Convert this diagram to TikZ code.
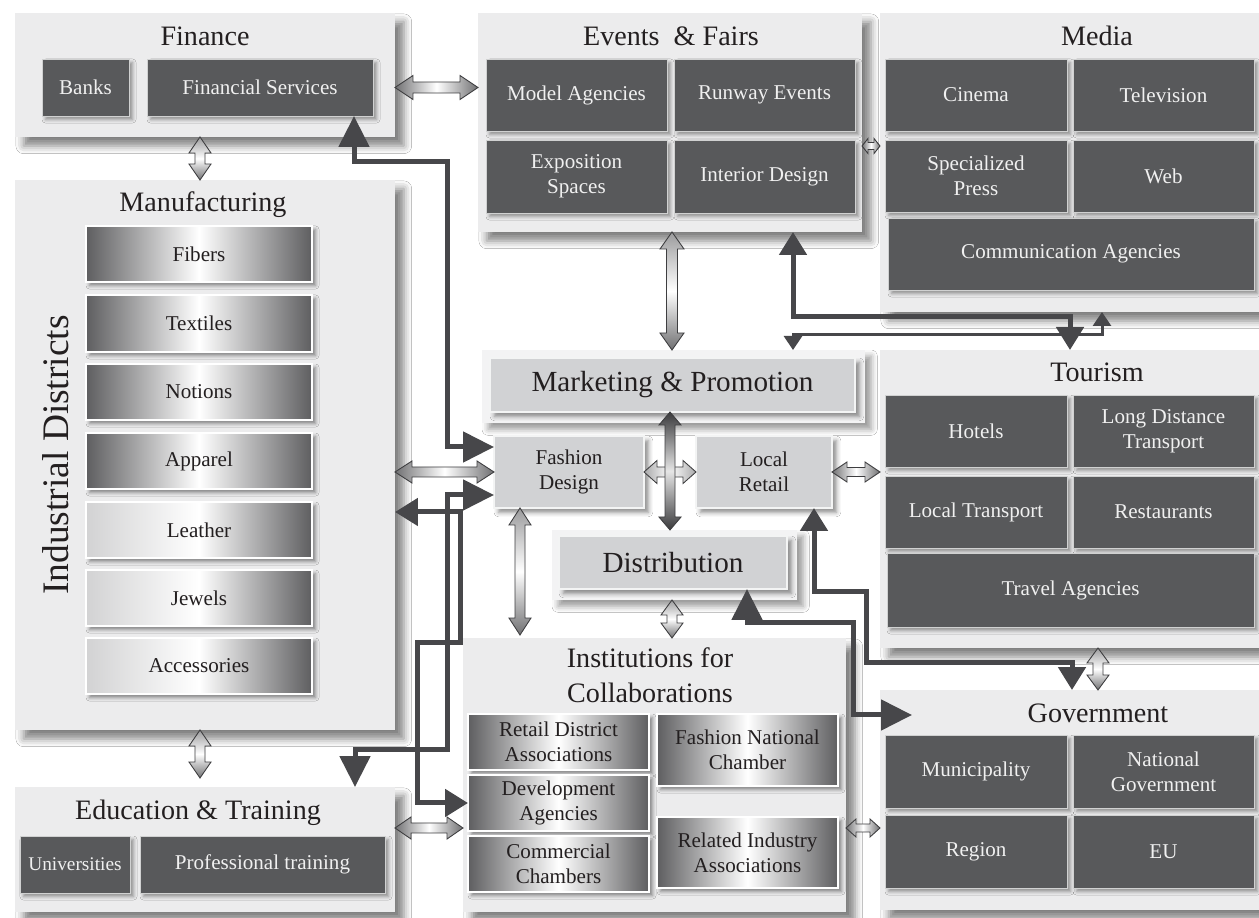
\documentclass[tikz,border=0pt]{standalone}
\usepackage{fontspec}
\setmainfont{Liberation Serif}
\usetikzlibrary{arrows.meta,shadows.blur,calc}
\definecolor{panel}{HTML}{ECECED}
\definecolor{ipanel}{HTML}{F3F3F4}
\definecolor{darkbox}{HTML}{58595B}
\definecolor{midbox}{HTML}{D1D2D4}
\definecolor{arr}{HTML}{47474A}
\definecolor{ink}{HTML}{231F20}
\definecolor{garr}{HTML}{707072}
\definecolor{garrd}{HTML}{3A3A3C}
\definecolor{arrline}{HTML}{3E3E40}
\definecolor{gdark}{HTML}{5E5E60}
\definecolor{glight}{HTML}{D2D2D3}
\newcommand\lbl{\fontsize{12}{14.2}\selectfont}
\newcommand\ttl{\fontsize{16}{19.5}\selectfont}
\newcommand\cell[7]{\node[#6, inner sep=0pt, outer sep=0pt, minimum width={(#4-#2)*0.02cm}, minimum height={(#5-#3)*0.02cm}] (#1) at ({(#2+#4)/2},{(#3+#5)/2}) {#7};}
% horizontal double arrow: style, left point, right point, head length, head half width, shaft half width
\newcommand\hdarr[6]{\path[#1] let \p1=#2, \p2=#3 in (\x1,\y1) -- ++(#4,#5) -- ++(0,#6-#5) -- (\x2-#4,\y1+#6) -- ++(0,#5-#6) -- (\x2,\y1) -- ++(-#4,-#5) -- ++(0,#5-#6) -- (\x1+#4,\y1-#6) -- ++(0,#6-#5) -- cycle;}
% vertical double arrow: style, upper point, lower point, head length, head half width, shaft half width
\newcommand\vdarr[6]{\path[#1] let \p1=#2, \p2=#3 in (\x1,\y1) -- ++(#5,-#4) -- ++(#6-#5,0) -- (\x1+#6,\y2+#4) -- ++(#5-#6,0) -- (\x1,\y2) -- ++(-#5,#4) -- ++(#5-#6,0) -- (\x1-#6,\y1-#4) -- ++(#6-#5,0) -- cycle;}
\tikzset{
  panelbox/.style={fill=panel, draw=none, blur shadow={shadow xshift=5pt, shadow yshift=-5pt, shadow blur radius=4.5pt, shadow opacity=50}},
  innerpanel/.style={fill=ipanel, draw=none, blur shadow={shadow xshift=3.5pt, shadow yshift=-3.5pt, shadow blur radius=3.5pt, shadow opacity=40}},
  darkcell/.style={fill=darkbox, draw=white!72!darkbox, line width=0.5pt, text=white!94!black, font=\lbl, align=center, blur shadow={shadow xshift=2pt, shadow yshift=-2pt, shadow blur radius=2pt, shadow opacity=40}},
  midcell/.style={fill=midbox, draw=white!75!midbox, line width=0.7pt, text=ink, font=\lbl, align=center, blur shadow={shadow xshift=2.5pt, shadow yshift=-2.5pt, shadow blur radius=2.5pt, shadow opacity=45}},
  gradA/.style={left color=gdark, right color=gdark, middle color=white, draw=white, line width=0.7pt, text=ink, font=\lbl, align=center, blur shadow={shadow xshift=2pt, shadow yshift=-2pt, shadow blur radius=2pt, shadow opacity=45}},
  gradB/.style={left color=glight, right color=gdark, middle color=white, draw=white, line width=0.7pt, text=ink, font=\lbl, align=center, blur shadow={shadow xshift=2pt, shadow yshift=-2pt, shadow blur radius=2pt, shadow opacity=45}},
  ttlnode/.style={font=\ttl, text=ink, anchor=base, inner sep=0pt},
  dka/.style={draw=arr, line width=0.1cm, line join=miter, {Triangle[width=0.6cm,length=0.62cm]}-{Triangle[width=0.6cm,length=0.62cm]}},
  dkm/.style={draw=arr, line width=0.1cm, line join=miter, {Triangle[width=0.54cm,length=0.46cm]}-{Triangle[width=0.54cm,length=0.46cm]}},
  dkthin/.style={draw=arr, line width=0.06cm, line join=miter, {Triangle[width=0.36cm,length=0.28cm]}-{Triangle[width=0.36cm,length=0.28cm]}},
  garrh/.style={draw=arrline, line width=0.5pt, left color=garr, right color=garr, middle color=white},
  garrv/.style={draw=arrline, line width=0.5pt, top color=garr!70!white, bottom color=garr, middle color=white},
  crossv/.style={draw=arrline, line width=0.5pt, top color=garrd, bottom color=garrd, middle color=white!90!black},
  crossh/.style={draw=arrline, line width=0.5pt, left color=garr!60!white, right color=garr!60!white, middle color=white}
}
\begin{document}
\begin{tikzpicture}[x=0.02cm,y=-0.02cm]
\useasboundingbox (0,0) rectangle (1259,918);
\fill[white] (0,0) rectangle (1259,918);
% panels
\cell{fin}{15}{13}{395}{137}{panelbox}{}
\cell{ev}{478}{13}{862}{232}{panelbox}{}
\cell{med}{880}{13}{1262}{312}{panelbox}{}
\cell{tou}{880}{350}{1262}{648}{panelbox}{}
\cell{gov}{880}{690}{1262}{910}{panelbox}{}
\cell{man}{15}{180}{395}{730}{panelbox}{}
\cell{edu}{15}{787}{395}{912}{panelbox}{}
\cell{inst}{463}{638}{846}{912}{panelbox}{}
\cell{mkp}{482}{350}{865}{423}{innerpanel}{}
\cell{distp}{552}{530}{797}{600}{innerpanel}{}
% titles
\node[ttlnode] (fint) at (205,46) {Finance};
\node[ttlnode] (evt) at (671,46) {Events~ \& Fairs};
\node[ttlnode] (medt) at (1097,46) {Media};
\node[ttlnode] (tout) at (1097,382) {Tourism};
\node[ttlnode] (govt) at (1098,723) {Government};
\node[ttlnode] (mant) at (203,212) {Manufacturing};
\node[ttlnode] (edut) at (198,820) {Education \& Training};
\node[ttlnode] (instt1) at (650,668) {Institutions for};
\node[ttlnode] (instt2) at (650,703) {Collaborations};
\node[rotate=90, font=\fontsize{21.3}{24}\selectfont, text=ink, inner sep=0pt] (ind) at (56,455) {Industrial Districts};
% finance
\cell{banks}{42}{59}{129}{116}{darkcell}{Banks}
\cell{fs}{147}{59}{373}{116}{darkcell}{Financial Services}
% events
\cell{ma}{486}{59}{667}{131}{darkcell}{Model Agencies}
\cell{re}{674}{59}{855}{131}{darkcell}{Runway Events}
\cell{es}{486}{140}{667}{213}{darkcell}{Exposition\\Spaces}
\cell{id}{674}{140}{855}{213}{darkcell}{Interior Design}
% media
\cell{cin}{885}{59}{1067}{131}{darkcell}{Cinema}
\cell{tv}{1073}{59}{1254}{131}{darkcell}{Television}
\cell{sp}{885}{140}{1067}{212}{darkcell}{Specialized\\Press}
\cell{web}{1073}{140}{1254}{212}{darkcell}{Web}
\cell{ca}{888}{218}{1254}{290}{darkcell}{Communication Agencies}
% tourism
\cell{hot}{885}{395}{1067}{467}{darkcell}{Hotels}
\cell{ldt}{1073}{395}{1254}{467}{darkcell}{Long Distance\\Transport}
\cell{lt}{885}{476}{1067}{548}{darkcell}{Local Transport}
\cell{rest}{1073}{476}{1254}{548}{darkcell}{Restaurants}
\cell{ta}{887}{553}{1254}{627}{darkcell}{Travel Agencies}
% government
\cell{mun}{885}{735}{1067}{808}{darkcell}{Municipality}
\cell{ng}{1073}{735}{1254}{808}{darkcell}{National\\Government}
\cell{reg}{885}{815}{1067}{888}{darkcell}{Region}
\cell{eu}{1073}{815}{1254}{888}{darkcell}{EU}
% education
\cell{uni}{20}{836}{130}{893}{darkcell, font=\fontsize{11}{13}\selectfont}{Universities}
\cell{pt}{140}{836}{385}{893}{darkcell}{Professional training}
% manufacturing
\cell{fib}{86}{226}{312}{282}{gradA}{Fibers}
\cell{tex}{86}{295}{312}{352}{gradA}{Textiles}
\cell{not}{86}{364}{312}{420}{gradA}{Notions}
\cell{app}{86}{433}{312}{489}{gradA}{Apparel}
\cell{lea}{86}{502}{312}{558}{gradB}{Leather}
\cell{jew}{86}{570}{312}{626}{gradB}{Jewels}
\cell{acc}{86}{638}{312}{694}{gradB}{Accessories}
% institutions
\cell{rda}{468}{714}{649}{770}{gradA}{Retail District\\Associations}
\cell{dev}{468}{775}{649}{831}{gradA}{Development\\Agencies}
\cell{cc}{468}{836}{649}{892}{gradA}{Commercial\\Chambers}
\cell{fnc}{657}{714}{838}{786}{gradA}{Fashion National\\Chamber}
\cell{ria}{657}{817}{838}{888}{gradA}{Related Industry\\Associations}
% center
\cell{mk}{490}{358}{855}{412}{midcell, font=\fontsize{16.6}{20}\selectfont}{Marketing \& Promotion}
\cell{fd}{494}{436}{644}{508}{midcell}{Fashion\\Design}
\cell{lr}{696}{436}{832}{508}{midcell}{Local\\Retail}
\cell{dist}{559}{536}{787}{589}{midcell, font=\fontsize{16.6}{20}\selectfont}{Distribution}
\coordinate (gin) at (912,715);
% dark connectors
\draw[dka] (354,0 |- fs.south) |- (447,162) |- (fd.west |- 0,447);
\draw[dka] (fd.west |- 0,495) -| (447,750) -| (355,0 |- edu.north);
\draw[dkm] (man.east |- 0,512) -| (460,643) -| (417,803) -- (dev.west |- 0,803);
\draw[dkm] (793,0 |- ev.south) |- (1070,317) -- (1070,0 |- tou.north);
\draw[dkthin] (793,0 |- mkp.north) |- (1102,335) -- (1102,0 |- med.south);
\draw[dkm] (814,0 |- lr.south) |- (866,592) |- (1072,663) -- (1072,0 |- gov.north);
\draw[dka] (747,0 |- dist.south) |- (853,623) |- (gin);
% gradient double arrows
\hdarr{garrh}{(fin.east |- fs.east)}{(ev.west |- fs.east)}{0.36cm}{0.24cm}{0.11cm}
\vdarr{garrv}{(200,0 |- fin.south)}{(200,0 |- man.north)}{0.32cm}{0.22cm}{0.1cm}
\hdarr{garrh}{(ev.east |- 0,146)}{(med.west |- 0,146)}{0.12cm}{0.15cm}{0.07cm}
\vdarr{garrv}{(672,0 |- ev.south)}{(672,0 |- mkp.north)}{0.34cm}{0.24cm}{0.11cm}
\hdarr{garrh}{(man.east |- fd.west)}{(fd.west)}{0.34cm}{0.22cm}{0.1cm}
\hdarr{crossh}{(fd.east)}{(lr.west)}{0.26cm}{0.23cm}{0.1cm}
\vdarr{crossv}{(670,0 |- mk.south)}{(670,0 |- distp.north)}{0.26cm}{0.22cm}{0.1cm}
\hdarr{garrh}{(lr.east)}{(tou.west |- lr.east)}{0.3cm}{0.2cm}{0.09cm}
\vdarr{garrv}{(520,0 |- fd.south)}{(520,635)}{0.34cm}{0.22cm}{0.1cm}
\vdarr{garrv}{(672,0 |- distp.south)}{(672,0 |- inst.north)}{0.3cm}{0.22cm}{0.1cm}
\vdarr{garrv}{(1098,0 |- tou.south)}{(1098,0 |- gov.north)}{0.3cm}{0.22cm}{0.1cm}
\vdarr{garrv}{(200,0 |- man.south)}{(200,778)}{0.32cm}{0.22cm}{0.1cm}
\hdarr{garrh}{(edu.east |- 0,828)}{(inst.west |- 0,828)}{0.32cm}{0.22cm}{0.1cm}
\hdarr{garrh}{(inst.east |- 0,828)}{(gov.west |- 0,828)}{0.2cm}{0.18cm}{0.08cm}
\end{tikzpicture}
\end{document}
